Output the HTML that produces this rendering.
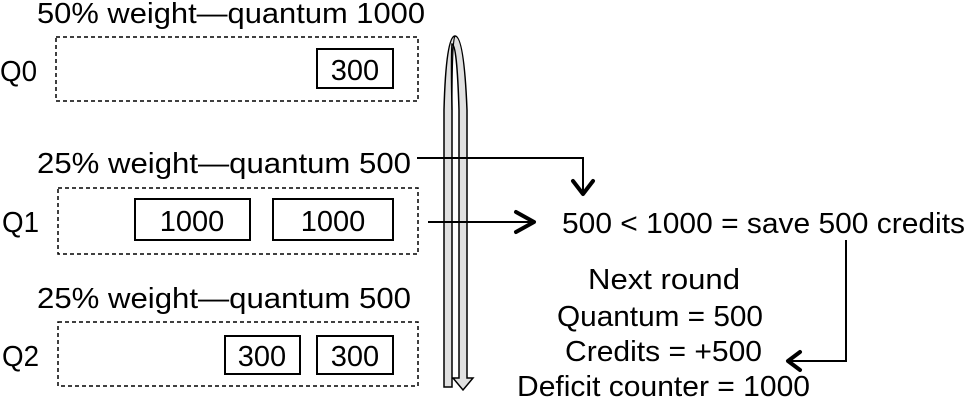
<!DOCTYPE html>
<html><head><meta charset="utf-8"><style>
html,body{margin:0;padding:0;background:#fff;}
svg{display:block;font-family:"Liberation Sans",Arial,sans-serif;}
</style></head><body>
<svg width="978" height="405" viewBox="0 0 978 405" xmlns="http://www.w3.org/2000/svg">
<g font-size="29" fill="#000">
<text x="37" y="23" textLength="388" lengthAdjust="spacingAndGlyphs">50% weight—quantum 1000</text>
<text x="37" y="173" textLength="374" lengthAdjust="spacingAndGlyphs">25% weight—quantum 500</text>
<text x="37" y="308" textLength="374" lengthAdjust="spacingAndGlyphs">25% weight—quantum 500</text>
<text x="0" y="81" textLength="37" lengthAdjust="spacingAndGlyphs">Q0</text>
<text x="2" y="232" textLength="37" lengthAdjust="spacingAndGlyphs">Q1</text>
<text x="2" y="366" textLength="37" lengthAdjust="spacingAndGlyphs">Q2</text>
</g>
<g fill="none" stroke="#000" stroke-width="1.5" stroke-dasharray="4,3">
<rect x="56" y="37" width="362" height="64"/>
<rect x="58" y="188" width="360" height="66"/>
<rect x="58" y="322" width="360" height="64"/>
</g>
<g fill="none" stroke="#000" stroke-width="2">
<rect x="317" y="49" width="76" height="39"/>
<rect x="135" y="199" width="115" height="41"/>
<rect x="273" y="199" width="120" height="41"/>
<rect x="225" y="336" width="75" height="38"/>
<rect x="317" y="336" width="76" height="38"/>
</g>
<g font-size="29" text-anchor="middle">
<text x="355" y="80">300</text>
<text x="192" y="231">1000</text>
<text x="333" y="231">1000</text>
<text x="262" y="366">300</text>
<text x="355" y="366">300</text>
</g>
<path d="M444,387 L444,110 Q446,36 455,36 Q464,36 467,110 L467,378 L473,378 L463,390 L453,378 L459,378 L459,110 Q457,44 452,44 Q451,60 452,110 L452,387 Z" fill="#e0e0e0" stroke="#000" stroke-width="1.5"/>
<path d="M452,110 Q452,40 455,36" fill="none" stroke="#000" stroke-width="1.2"/>
<g fill="none" stroke="#000" stroke-width="2">
<path d="M417,158 L583,158 L583,192"/>
<path d="M428,222 L532,222"/>
<path d="M846,240 L846,361 L790,361"/>
</g>
<g fill="none" stroke="#000" stroke-width="4" stroke-linecap="round" stroke-linejoin="round">
<path d="M573,181 L583,194 L593,181"/>
<path d="M516,212 L534,222 L516,232"/>
<path d="M800,352 L788,361 L800,370"/>
</g>
<g font-size="29" fill="#000">
<text x="562" y="233" textLength="403" lengthAdjust="spacingAndGlyphs">500 &lt; 1000 = save 500 credits</text>
<text x="588" y="289" textLength="152" lengthAdjust="spacingAndGlyphs">Next round</text>
<text x="557" y="326" textLength="206" lengthAdjust="spacingAndGlyphs">Quantum = 500</text>
<text x="565" y="361" textLength="197" lengthAdjust="spacingAndGlyphs">Credits = +500</text>
<text x="517" y="396" textLength="293" lengthAdjust="spacingAndGlyphs">Deficit counter = 1000</text>
</g>
</svg>
</body></html>
